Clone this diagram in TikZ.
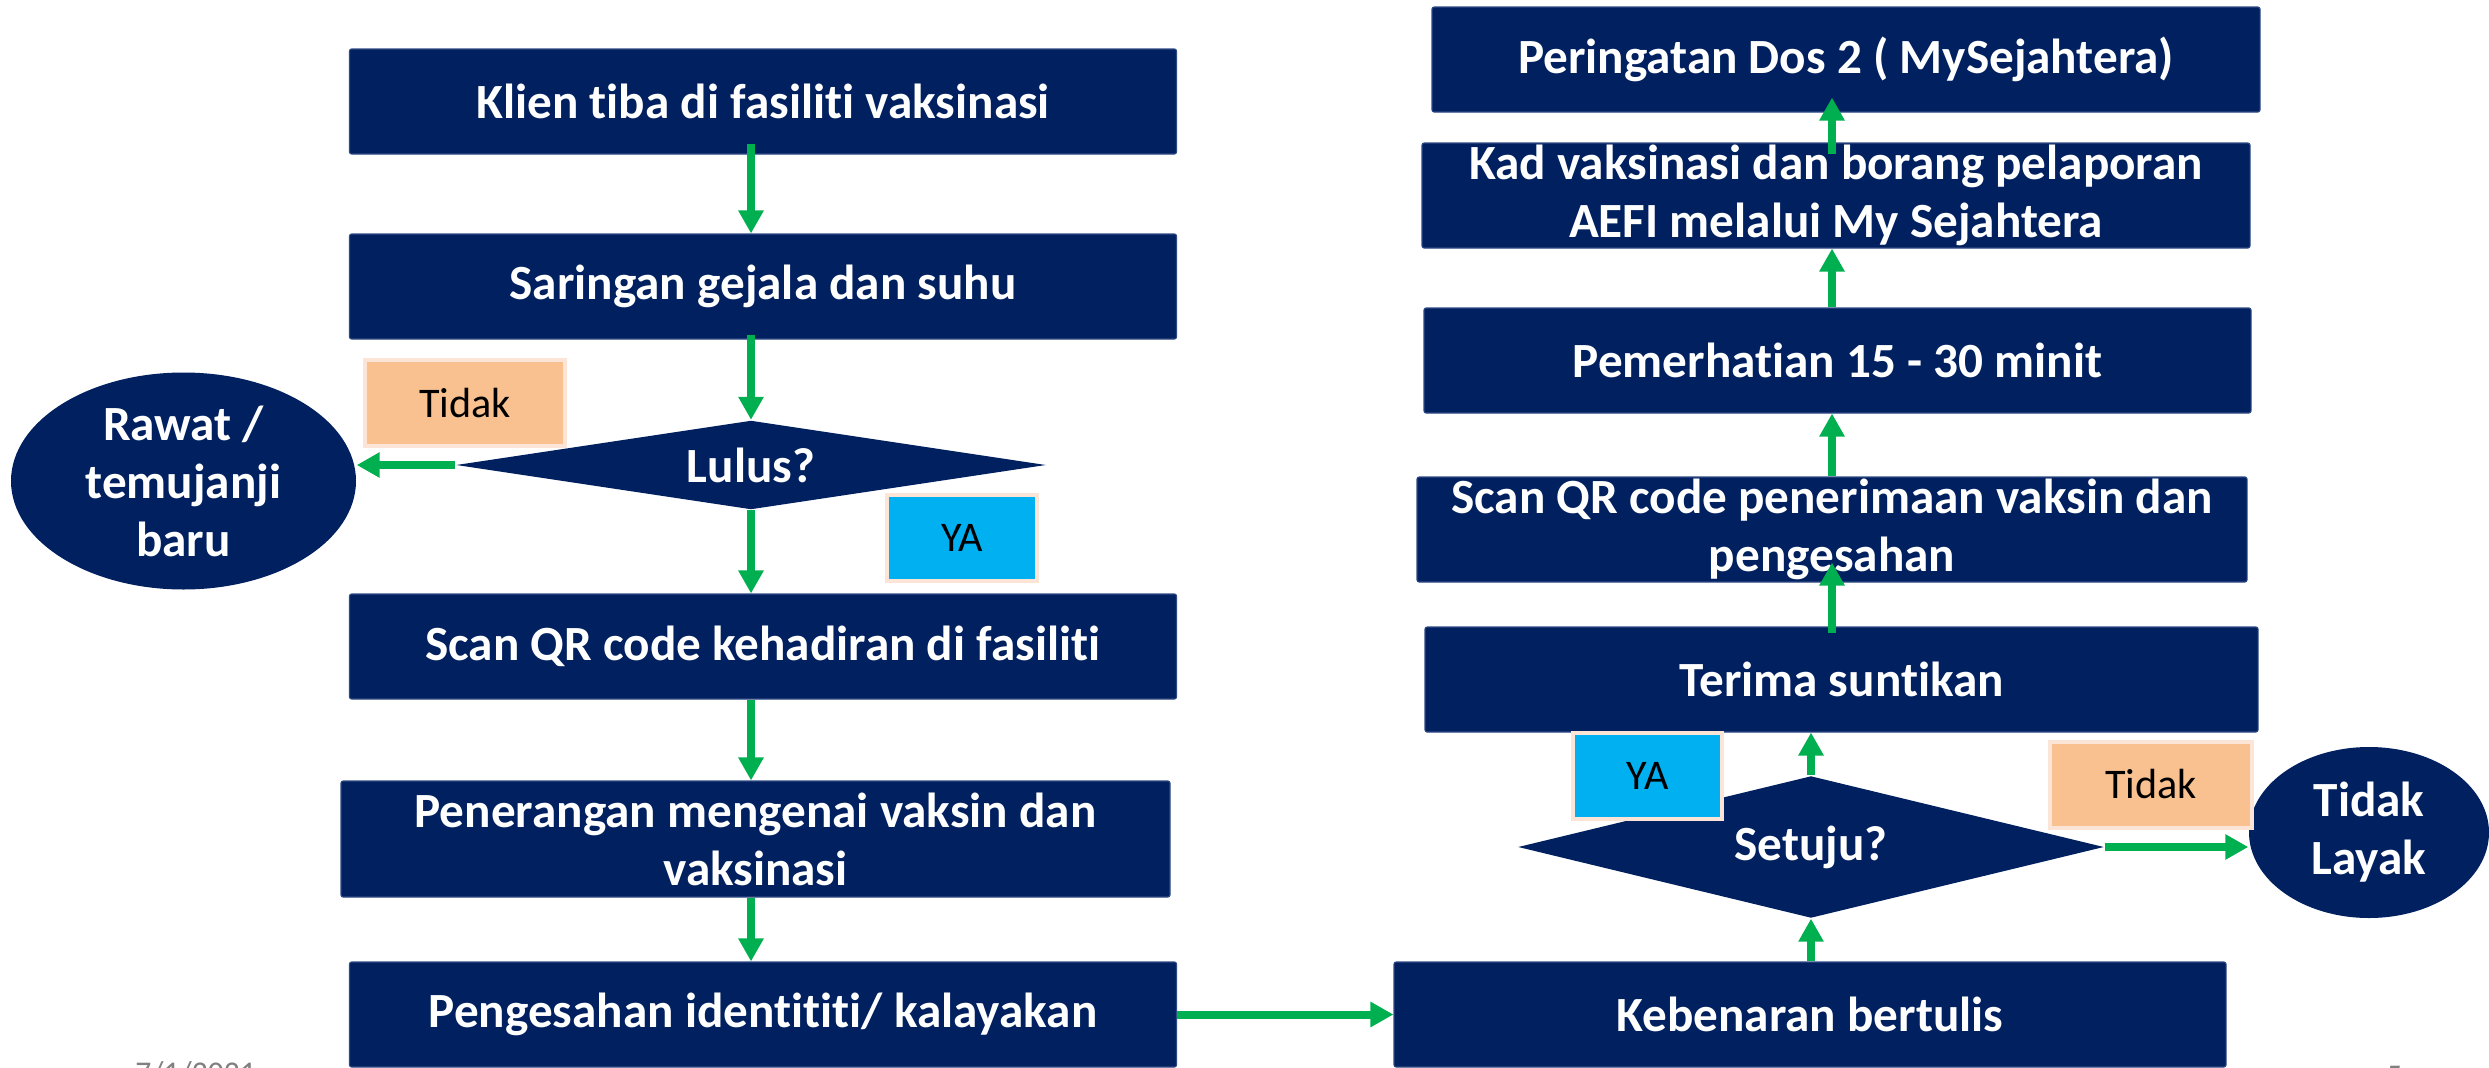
\documentclass[tikz,border=0pt]{standalone}
\usepackage{fontspec}
\setmainfont{Carlito}[Ligatures={NoCommon}]
\usetikzlibrary{shapes.geometric,arrows.meta}
\definecolor{navy}{HTML}{002060}
\definecolor{navyedge}{HTML}{2F4B85}
\definecolor{flowgreen}{HTML}{00B050}
\definecolor{yacyan}{HTML}{00B0F0}
\definecolor{tidakpeach}{HTML}{F8C18F}
\definecolor{answeredge}{HTML}{FCE4D6}
\def \BoxFont {\fontsize{14}{16.5}\selectfont\bfseries}
\tikzstyle{stepbox}=[
  draw=navyedge, line width=0.3pt,
  fill=navy, rounded corners=0.2mm,
  text=white, font=\BoxFont, align=center,
  minimum width=8.27cm, minimum height=1.05cm, inner sep=0pt
]
\tikzstyle{decision}=[
  diamond, fill=navy, text=white, font=\BoxFont,
  aspect=6, inner sep=0pt, minimum width=5.9cm
]
\tikzstyle{endnode}=[
  ellipse, fill=navy, text=white, font=\BoxFont,
  align=center, inner sep=0pt
]
\tikzstyle{answer}=[
  draw=answeredge, line width=0.4mm,
  font=\fontsize{12}{14}\selectfont,
  minimum height=0.86cm, inner sep=0pt
]
\tikzstyle{flow}=[
  draw=flowgreen, line width=0.8mm,
  -{Triangle[length=2.3mm,width=2.4mm]}
]

\begin{document}
\begin{tikzpicture}[x=0.1mm, y=-0.1mm]
          \useasboundingbox (0,0) rectangle (2489,1067);

          \def \xL {763}
          \def \xR {1836}

          \node[stepbox] (klien) at (\xL, 101.5) {Klien tiba di fasiliti vaksinasi};
          \node[stepbox] (saringan) at (\xL, 286.5) {Saringan gejala dan suhu};
          \node[decision, minimum height=0.89cm] (lulus) at (751, 465) {Lulus?};
          \node[stepbox] (kehadiran) at (\xL, 646.5) {Scan QR code kehadiran di fasiliti};
          \node[stepbox, minimum width=8.29cm, minimum height=1.16cm] (penerangan) at (755.5, 839) {Penerangan mengenai vaksin dan\\vaksinasi};
          \node[stepbox] (pengesahan) at (\xL, 1014.5) {Pengesahan identititi/ kalayakan};

          \node[endnode, minimum width=3.45cm, minimum height=2.17cm] (rawat) at (183.5, 481) {Rawat /\\temujanji\\baru};
          \node[answer, fill=tidakpeach, minimum width=2cm] (tidakA) at (465, 403) {Tidak};
          \node[answer, fill=yacyan, minimum width=1.5cm] (yaA) at (962, 538) {YA};

          \node[stepbox, minimum width=8.32cm] (kebenaran) at (1810, 1014.5) {Kebenaran bertulis};
          \node[decision, minimum width=5.86cm, minimum height=1.42cm] (setuju) at (1811, 847) {Setuju?};
          \node[stepbox, minimum width=8.33cm] (terima) at (1841.5, 679.5) {Terima suntikan};
          \node[stepbox, minimum width=8.3cm] (penerimaan) at (1832, 529.5) {Scan QR code penerimaan vaksin dan\\pengesahan};
          \node[stepbox] (pemerhatian) at (1837.5, 360.5) {Pemerhatian 15 - 30 minit};
          \node[stepbox, minimum width=8.28cm] (kad) at (\xR, 195.5) {Kad vaksinasi dan borang pelaporan\\AEFI melalui My Sejahtera};
          \node[stepbox, minimum width=8.28cm] (peringatan) at (1846, 59.5) {Peringatan Dos 2 ( MySejahtera)};

          \node[endnode, minimum width=2.4cm, minimum height=1.71cm] (layak) at (2369, 832.5) {Tidak\\Layak};
          \node[answer, fill=yacyan, minimum width=1.49cm] (yaB) at (1647.5, 775.5) {YA};
          \node[answer, fill=tidakpeach, minimum width=2.02cm] (tidakB) at (2151, 784.5) {Tidak};

          \node[text=gray, font=\fontsize{9}{10}\selectfont, anchor=base west] (tarikh) at (123, 1083) {7/1/2021};
          \node[text=gray, font=\fontsize{9}{10}\selectfont, anchor=base west] (halaman) at (2374, 1086) {5};

          \foreach \a/\b/\s in {klien/saringan/1.1mm, saringan/lulus/0.5mm, lulus/kehadiran/0mm, kehadiran/penerangan/0mm, penerangan/pengesahan/0mm}{
            \draw[flow, shorten <=-\s] (\a.south -| lulus) -- (\b.north -| lulus);
          }
          \draw[flow] (lulus.west) -- (lulus.west -| rawat.east);
          \draw[flow] (pengesahan) -- (kebenaran);

          \draw[flow] (kebenaran.north -| setuju) -- (setuju.south);
          \draw[flow] (setuju.north) -- (terima.south -| setuju);
          \draw[flow] (setuju.east) -- (setuju.east -| layak.west);
          \draw[flow, shorten <=-0.7mm, shorten >=-2mm] (terima.north -| penerimaan) -- (penerimaan.south);
          \draw[flow] (penerimaan.north) -- (pemerhatian.south -| penerimaan);
          \draw[flow] (pemerhatian.north -| penerimaan) -- (kad.south -| penerimaan);
          \draw[flow, shorten <=-1.2mm, shorten >=-1.5mm] (kad.north -| penerimaan) -- (peringatan.south -| penerimaan);
        \end{tikzpicture}
\end{document}
